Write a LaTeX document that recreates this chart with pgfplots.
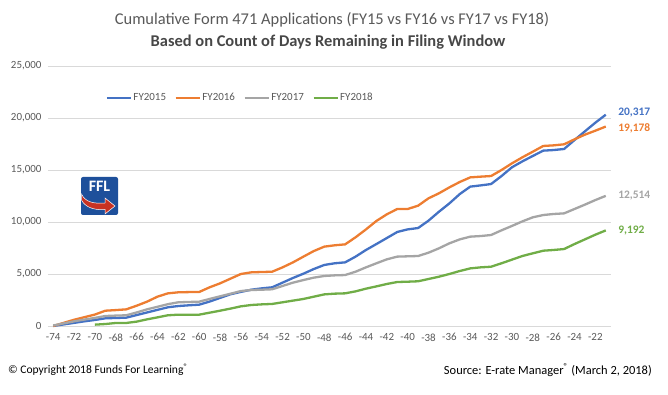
\documentclass[border=0pt]{standalone}
\usepackage{fontspec}
\setmainfont{Carlito}
\usepackage{pgfplots}
\pgfplotsset{compat=1.18}
\definecolor{c15}{RGB}{68,114,196}
\definecolor{c16}{RGB}{237,125,49}
\definecolor{c17}{RGB}{165,165,165}
\definecolor{c18}{RGB}{112,173,71}
\definecolor{txt}{RGB}{89,89,89}
\definecolor{gridc}{RGB}{217,217,217}
\definecolor{logoblue}{RGB}{30,80,155}
\definecolor{logored}{RGB}{200,50,35}
\begin{document}
\begin{tikzpicture}
\path[use as bounding box] (0,0) rectangle (668bp,395bp);
\begin{axis}[
  at={(48bp,69bp)}, anchor=south west,
  width=563bp, height=260bp, scale only axis,
  xmin=-74.5, xmax=-20.5, ymin=0, ymax=25000,
  xtick={-74,-72,...,-22},
  ytick={0,5000,10000,15000,20000,25000},
  ymajorgrids, grid style={gridc, line width=0.75bp},
  axis line style={draw=none},
  axis x line*=bottom,
  major tick length=0pt,
  clip=false,
  /pgf/number format/assume math mode=true,
  /pgf/number format/.cd, 1000 sep={,}, /pgfplots/.cd,
  scaled y ticks=false,
  ticklabel style={font=\fontsize{11}{12}\selectfont, text=txt},
  yticklabel style={xshift=-3bp},
  xticklabel style={yshift=-4bp},
  legend style={at={(0.341,0.877)}, anchor=center, draw=none, fill=none,
    font=\fontsize{11}{12}\selectfont, text=txt,
    /tikz/every even column/.append style={column sep=7bp},
    nodes={inner sep=1.5bp}},
  legend columns=4,
  legend image code/.code={\draw[#1] (0bp,0bp) -- (24bp,0bp);},
  every axis plot/.append style={line width=2.3bp, line join=round},
]
\draw[gridc, line width=0.75bp] (rel axis cs:0,0) -- (rel axis cs:1,0);
\addplot[c15] coordinates {
(-74,0)(-73,150)(-72,300)(-71,450)(-70,580)(-69,740)(-68,770)(-67,800)(-66,1050)(-65,1300)
(-64,1550)(-63,1800)(-62,1920)(-61,1990)(-60,2050)(-59,2350)(-58,2700)(-57,3050)(-56,3280)(-55,3490)
(-54,3620)(-53,3720)(-52,4170)(-51,4620)(-50,5030)(-49,5480)(-48,5870)(-47,6030)(-46,6120)(-45,6670)
(-44,7310)(-43,7880)(-42,8460)(-41,9040)(-40,9290)(-39,9420)(-38,10130)(-37,10990)(-36,11790)(-35,12690)
(-34,13400)(-33,13520)(-32,13650)(-31,14420)(-30,15260)(-29,15830)(-28,16350)(-27,16860)(-26,16920)(-25,17020)
(-24,17880)(-23,18720)(-22,19550)(-21,20317)};
\addlegendentry{FY2015}
\addplot[c16] coordinates {
(-74,0)(-73,300)(-72,600)(-71,850)(-70,1100)(-69,1470)(-68,1530)(-67,1600)(-66,1950)(-65,2340)
(-64,2820)(-63,3140)(-62,3240)(-61,3260)(-60,3270)(-59,3720)(-58,4100)(-57,4550)(-56,5000)(-55,5160)
(-54,5190)(-53,5220)(-52,5640)(-51,6120)(-50,6670)(-49,7210)(-48,7630)(-47,7760)(-46,7850)(-45,8530)
(-44,9290)(-43,10100)(-42,10740)(-41,11250)(-40,11250)(-39,11570)(-38,12280)(-37,12760)(-36,13330)(-35,13850)
(-34,14290)(-33,14360)(-32,14420)(-31,15000)(-30,15640)(-29,16220)(-28,16760)(-27,17310)(-26,17370)(-25,17470)
(-24,17950)(-23,18400)(-22,18780)(-21,19178)};
\addlegendentry{FY2016}
\addplot[c17] coordinates {
(-74,50)(-73,250)(-72,450)(-71,620)(-70,780)(-69,960)(-68,1000)(-67,1030)(-66,1300)(-65,1600)
(-64,1850)(-63,2100)(-62,2280)(-61,2310)(-60,2340)(-59,2600)(-58,2850)(-57,3100)(-56,3360)(-55,3460)
(-54,3490)(-53,3530)(-52,3850)(-51,4170)(-50,4420)(-49,4650)(-48,4810)(-47,4870)(-46,4900)(-45,5220)
(-44,5640)(-43,6030)(-42,6410)(-41,6670)(-40,6700)(-39,6730)(-38,7050)(-37,7470)(-36,7950)(-35,8330)
(-34,8590)(-33,8650)(-32,8750)(-31,9200)(-30,9620)(-29,10060)(-28,10450)(-27,10670)(-26,10770)(-25,10830)
(-24,11250)(-23,11670)(-22,12110)(-21,12514)};
\addlegendentry{FY2017}
\addplot[c18] coordinates {
(-70,130)(-69,190)(-68,290)(-67,290)(-66,420)(-65,640)(-64,830)(-63,1030)(-62,1090)(-61,1090)
(-60,1090)(-59,1280)(-58,1470)(-57,1670)(-56,1890)(-55,2020)(-54,2080)(-53,2120)(-52,2280)(-51,2440)
(-50,2600)(-49,2820)(-48,3040)(-47,3110)(-46,3140)(-45,3330)(-44,3590)(-43,3810)(-42,4040)(-41,4230)
(-40,4260)(-39,4300)(-38,4520)(-37,4740)(-36,5000)(-35,5290)(-34,5540)(-33,5640)(-32,5700)(-31,6030)
(-30,6380)(-29,6730)(-28,6990)(-27,7240)(-26,7310)(-25,7400)(-24,7880)(-23,8330)(-22,8780)(-21,9192)};
\addlegendentry{FY2018}
\node[anchor=west, text=c15, font=\fontsize{11.5}{13}\selectfont\bfseries, xshift=9bp, yshift=2bp] at (axis cs:-21,20317) {20,317};
\node[anchor=west, text=c16, font=\fontsize{11.5}{13}\selectfont\bfseries, xshift=9bp, yshift=-2bp] at (axis cs:-21,19178) {19,178};
\node[anchor=west, text=c17, font=\fontsize{11.5}{13}\selectfont\bfseries, xshift=9bp] at (axis cs:-21,12514) {12,514};
\node[anchor=west, text=c18, font=\fontsize{11.5}{13}\selectfont\bfseries, xshift=9bp] at (axis cs:-21,9192) {9,192};
\end{axis}
% titles
\node[text=txt, font=\fontsize{16.5}{18}\selectfont] at (332bp,375bp) {Cumulative Form 471 Applications (FY15 vs FY16 vs FY17 vs FY18)};
\node[text=txt!80!black, font=\fontsize{16.5}{18}\selectfont\bfseries] at (328bp,353bp) {Based on Count of Days Remaining in Filing Window};
% footer
\node[anchor=west, font=\fontsize{11.6}{14}\selectfont, inner sep=0pt] at (8bp,25bp) {© Copyright 2018 Funds For Learning\textsuperscript{®}};
\node[anchor=east, font=\fontsize{12.5}{14}\selectfont, inner sep=0pt] at (652bp,25bp) {Source: E-rate Manager\textsuperscript{®} (March 2, 2018)};
% logo
\fill[logoblue, rounded corners=2bp] (81bp,180bp) rectangle (118bp,218bp);
\node[text=white, font=\fontsize{16}{17}\selectfont\bfseries, inner sep=0pt] at (99.5bp,208.5bp) {FFL};
\filldraw[fill=logored, draw=white, line width=0.5bp]
  (81.5bp,201bp) .. controls (85bp,193bp) and (94bp,191bp) .. (105bp,192bp)
  -- (105bp,197bp) -- (115bp,189bp) -- (105bp,181bp) -- (105bp,185.5bp)
  .. controls (94bp,184.5bp) and (85bp,188bp) .. (81.5bp,195bp) -- cycle;
\end{tikzpicture}
\end{document}
